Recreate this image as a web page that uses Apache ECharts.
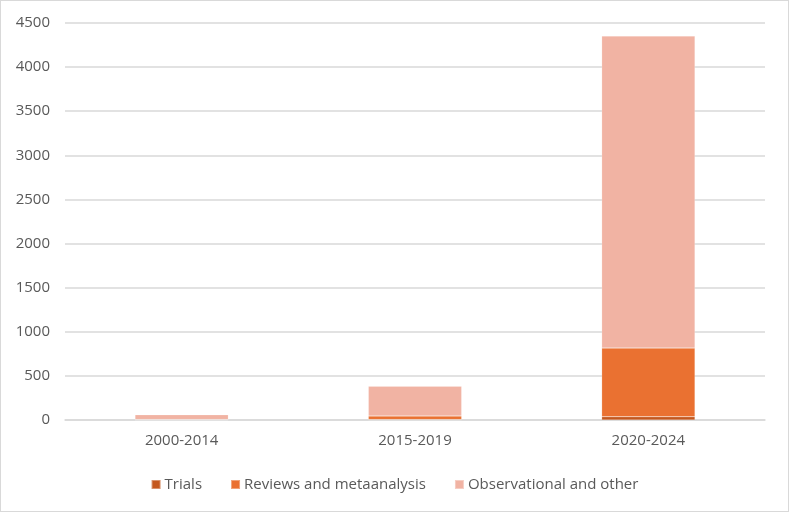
<!DOCTYPE html>
<html><head><meta charset="utf-8">
<script src="https://cdn.jsdelivr.net/npm/echarts@6/dist/echarts.min.js"></script>
<style>html,body{margin:0;padding:0;background:#fff}#c{width:789px;height:512px;box-sizing:border-box;border:1px solid #d9d9d9}</style>
</head><body><div id="c"></div>
<script>
const categories = ['2000-2014', '2015-2019', '2020-2024'];
const trials = [2, 5, 37];
const reviews = [3, 40, 778];
const observational = [55, 338, 3537];
const yTicks = [0, 500, 1000, 1500, 2000, 2500, 3000, 3500, 4000, 4500];

const chart = echarts.init(document.getElementById('c'));
const font = '"Open Sans", sans-serif';
const mk = (name, data, color) => ({
  name, type: 'bar', stack: 'a', data, barWidth: '40%',
  itemStyle: { color, borderColor: 'rgba(255,255,255,0.35)', borderWidth: 0.5 },
  emphasis: { disabled: true }
});
chart.setOption({
  animation: false,
  textStyle: { fontFamily: font },
  grid: { left: 64, right: 23, top: 22, bottom: 91 },
  legend: {
    top: 471, left: 'center', itemWidth: 9, itemHeight: 9, itemGap: 28,
    icon: 'rect',
    textStyle: { fontFamily: font, fontSize: 15, color: '#595959', padding: [0, 0, 0, -1] },
    data: ['Trials', 'Reviews and metaanalysis', 'Observational and other']
  },
  xAxis: {
    type: 'category', data: categories,
    axisLine: { lineStyle: { color: '#d9d9d9', width: 1.5 } },
    axisTick: { show: false },
    axisLabel: { color: '#595959', fontSize: 15, margin: 13, fontFamily: font }
  },
  yAxis: {
    type: 'value', min: yTicks[0], max: yTicks[yTicks.length - 1], interval: 500,
    axisLine: { show: false }, axisTick: { show: false },
    axisLabel: { color: '#595959', fontSize: 15, margin: 15, fontFamily: font, formatter: v => String(v) },
    splitLine: { lineStyle: { color: '#d9d9d9', width: 1.5 } }
  },
  series: [
    mk('Trials', trials, '#C4581F'),
    mk('Reviews and metaanalysis', reviews, '#EA7131'),
    mk('Observational and other', observational, '#F1B3A3')
  ]
});
</script></body></html>
